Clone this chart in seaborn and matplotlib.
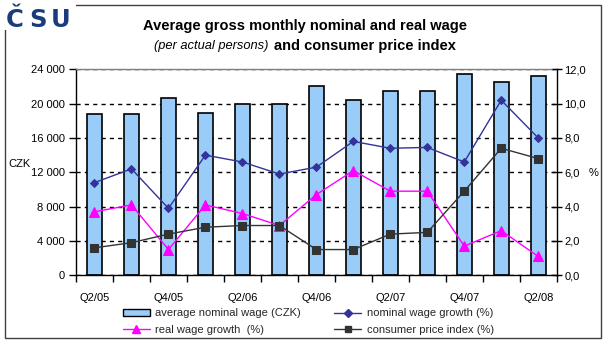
import numpy as np
import pandas as pd
import matplotlib
matplotlib.use("Agg")
import matplotlib.pyplot as plt
import seaborn as sns
from matplotlib.patches import Rectangle, Patch
from matplotlib.lines import Line2D
from matplotlib.ticker import FuncFormatter, MultipleLocator

quarters = ["Q2/05", "Q3/05", "Q4/05", "Q1/06", "Q2/06", "Q3/06", "Q4/06",
            "Q1/07", "Q2/07", "Q3/07", "Q4/07", "Q1/08", "Q2/08"]
avg_wage = [18760, 18760, 20640, 18870, 19950, 19950, 22050,
            20420, 21470, 21470, 23450, 22500, 23200]
nominal_growth = [5.4, 6.2, 3.9, 7.0, 6.6, 5.9, 6.3, 7.8, 7.4, 7.45, 6.6, 10.2, 8.0]
real_growth = [3.7, 4.1, 1.5, 4.1, 3.6, 2.9, 4.7, 6.1, 4.9, 4.9, 1.7, 2.6, 1.1]
cpi = [1.6, 1.9, 2.4, 2.8, 2.9, 2.9, 1.5, 1.5, 2.4, 2.5, 4.9, 7.4, 6.8]

legend_labels = ["average nominal wage (CZK)", "nominal wage growth (%)",
                 "real wage growth  (%)", "consumer price index (%)"]

df = pd.DataFrame({"quarter": quarters, "wage": avg_wage,
                   "nominal": nominal_growth, "real": real_growth, "cpi": cpi})
df["pos"] = np.arange(len(df))

sns.set_theme(style="white")
plt.rcParams["font.family"] = ["Liberation Sans", "DejaVu Sans"]

W, H = 607, 344
fig = plt.figure(figsize=(W / 100, H / 100), dpi=100)
ax = fig.add_axes([76 / W, 1 - 275.3 / H, (556.7 - 76) / W, (275.3 - 69.3) / H])

bar_color = "#99CCF8"
sns.barplot(data=df, x="quarter", y="wage", ax=ax, color=bar_color,
            edgecolor="black", linewidth=1.2, width=0.41, saturation=1, zorder=2)
ax.set_xlim(-0.5, len(df) - 0.5)
ax.set_ylim(0, 24000)
ax.yaxis.set_major_locator(MultipleLocator(4000))
ax.yaxis.set_major_formatter(FuncFormatter(lambda v, p: f"{int(v):,}".replace(",", " ")))
ax.set_xlabel("")
ax.set_ylabel("")

# x ticks: marks at boundaries, labels every other quarter
ax.set_xticks(np.arange(-0.5, len(df), 1.0))
ax.set_xticklabels([])
ax.set_xticks(np.arange(0, len(df), 2), minor=True)
ax.set_xticklabels(quarters[::2], minor=True)
ax.tick_params(axis="x", which="major", direction="out", length=5, width=1, color="black", bottom=True)
ax.tick_params(axis="x", which="minor", length=0, pad=13, labelsize=8, labelcolor="black")
ax.tick_params(axis="y", direction="out", length=5, width=1, color="black", left=True,
               labelsize=8, labelcolor="black", pad=3)

ax.yaxis.grid(True, linestyle=(0, (3, 3)), color="black", linewidth=1, zorder=0)
ax.set_axisbelow(True)
gls = ax.get_ygridlines()
gls[0].set_visible(False)
gls[-1].set_visible(False)

for s in ["left", "bottom"]:
    ax.spines[s].set_color("black")
    ax.spines[s].set_linewidth(1)
ax.spines["top"].set_color("#808080")
ax.spines["top"].set_linewidth(1)
ax.spines["right"].set_visible(False)

ax2 = ax.twinx()
c_nom, c_real, c_cpi = "#333399", "#FF00FF", "#333333"
sns.lineplot(data=df, x="pos", y="nominal", ax=ax2, color=c_nom, marker="D",
             markersize=4.5, markeredgecolor=c_nom, linewidth=1, zorder=5)
sns.lineplot(data=df, x="pos", y="real", ax=ax2, color=c_real, marker="^",
             markersize=7, markeredgecolor=c_real, linewidth=1, zorder=5)
sns.lineplot(data=df, x="pos", y="cpi", ax=ax2, color=c_cpi, marker="s",
             markersize=6, markeredgecolor=c_cpi, linewidth=1, zorder=5)
ax2.set_xlim(-0.5, len(df) - 0.5)
ax2.set_ylim(0, 12)
ax2.yaxis.set_major_locator(MultipleLocator(2))
ax2.yaxis.set_major_formatter(FuncFormatter(lambda v, p: f"{v:.1f}".replace(".", ",")))
ax2.set_xlabel("")
ax2.set_ylabel("")
ax2.tick_params(axis="y", direction="inout", length=7, width=1, color="black", right=True,
                labelsize=8, labelcolor="black", pad=2)
for s in ["left", "top", "bottom"]:
    ax2.spines[s].set_visible(False)
ax2.spines["right"].set_color("black")
ax2.spines["right"].set_linewidth(1)

# frame
fig.patches.append(Rectangle((5 / W, 1 - 338 / H), 596 / W, 333 / H, transform=fig.transFigure,
                             fill=False, edgecolor="#404040", linewidth=1))

# logo
logo_color = "#1B3C7C"
fig.patches.append(Rectangle((4 / W, 1 - 30 / H), 72 / W, 26 / H, transform=fig.transFigure,
                             facecolor="white", edgecolor="none"))
for ch, xp in zip(["Č", "S", "U"], [6, 29, 51]):
    fig.text(xp / W, 1 - 27 / H, ch, fontsize=17.5, fontweight="heavy", color=logo_color,
             family="DejaVu Sans", ha="left", va="baseline")

# titles
fig.text(305 / W, 1 - 26 / H, "Average gross monthly nominal and real wage",
         fontsize=10.5, fontweight="bold", ha="center", va="center", color="black")
fig.text(268 / W, 1 - 46.5 / H, "(per actual persons)", fontsize=9.3, fontstyle="italic",
         ha="right", va="center", color="black")
fig.text(274 / W, 1 - 46 / H, "and consumer price index", fontsize=10.5, fontweight="bold",
         ha="left", va="center", color="black")

fig.text(8 / W, 1 - 164 / H, "CZK", fontsize=8, ha="left", va="center", color="black")
fig.text(594 / W, 1 - 173 / H, "%", fontsize=8, ha="center", va="center", color="black")

handles = [
    Patch(facecolor=bar_color, edgecolor="black", linewidth=1),
    Line2D([], [], color=c_real, marker="^", markersize=6, linewidth=1),
    Line2D([], [], color=c_nom, marker="D", markersize=4, linewidth=1),
    Line2D([], [], color=c_cpi, marker="s", markersize=5, linewidth=1),
]
labels = [legend_labels[0], legend_labels[2], legend_labels[1], legend_labels[3]]
fig.legend(handles, labels, loc="upper left", bbox_to_anchor=(123 / W, 1 - 308.5 / H),
           ncol=2, frameon=False, fontsize=8, handlelength=2.4, handleheight=0.6,
           handletextpad=0.5, columnspacing=3.0, labelspacing=0.6, borderpad=0,
           borderaxespad=0)

fig.savefig("out.png", dpi=100)
